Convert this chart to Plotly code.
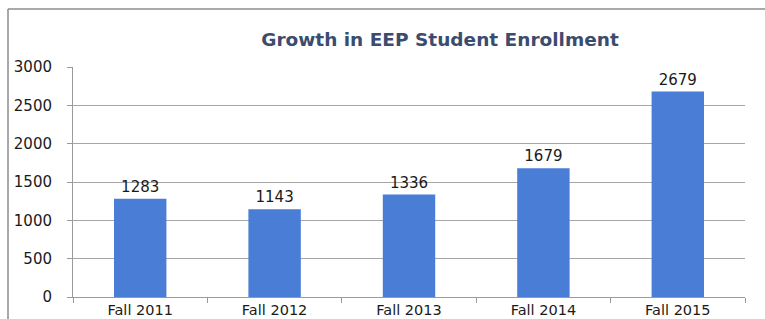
import plotly.graph_objects as go

categories = ["Fall 2011", "Fall 2012", "Fall 2013", "Fall 2014", "Fall 2015"]
enrollment = [1283, 1143, 1336, 1679, 2679]
y_ticks = [0, 500, 1000, 1500, 2000, 2500, 3000]

W, H = 765, 319
L, R, T, B = 73, 20, 67, 22
pw = W - L - R
ph = H - T - B

def px_x(x):
    return (x - L) / pw

def px_y(y):
    return (H - B - y) / ph

FONT = "DejaVu Sans"

fig = go.Figure(go.Bar(
    x=categories, y=enrollment,
    marker=dict(color="#4A7ED6", line=dict(width=0)),
    width=0.39,
    text=[str(v) for v in enrollment], textposition="outside",
    textfont=dict(family=FONT, size=15, color="#1a1a1a"),
    cliponaxis=False,
))

fig.update_layout(
    width=W, height=H,
    margin=dict(l=L, r=R, t=T, b=B, autoexpand=False),
    paper_bgcolor="white", plot_bgcolor="white",
    showlegend=False,
    title=dict(text="<b>Growth in EEP Student Enrollment</b>",
               x=px_x(440), xref="paper", xanchor="center",
               y=1 - 40 / H, yref="container", yanchor="middle",
               font=dict(family=FONT, size=18.5, color="#3C4C6E")),
    xaxis=dict(
        showline=True, linecolor="#9a9a9a", linewidth=1,
        ticks="outside", ticklen=5, tickcolor="#9a9a9a",
        tickson="boundaries", showgrid=False,
        ticklabelstandoff=0,
        tickfont=dict(family=FONT, size=14.5, color="#1a1a1a"),
        automargin=False,
    ),
    yaxis=dict(
        range=[0, 3000], tickvals=y_ticks, ticktext=[str(v) for v in y_ticks],
        showline=True, linecolor="#9a9a9a", linewidth=1,
        ticks="outside", ticklen=5, tickcolor="#9a9a9a",
        showgrid=True, gridcolor="#a6a6a6", gridwidth=1,
        zeroline=False,
        ticklabelstandoff=12,
        tickfont=dict(family=FONT, size=15, color="#1a1a1a"),
        automargin=False,
    ),
    shapes=[
        dict(type="line", xref="paper", yref="paper",
             x0=px_x(8), x1=px_x(8), y0=px_y(9), y1=px_y(H + 5),
             line=dict(color="#8c8c8c", width=1.5)),
        dict(type="line", xref="paper", yref="paper",
             x0=px_x(8), x1=px_x(W + 5), y0=px_y(9), y1=px_y(9),
             line=dict(color="#8c8c8c", width=1.5)),
    ],
)

fig.write_html("out.html",
               config={"displayModeBar": False},
               post_script="document.body.style.margin='0';document.body.style.overflow='hidden';")
